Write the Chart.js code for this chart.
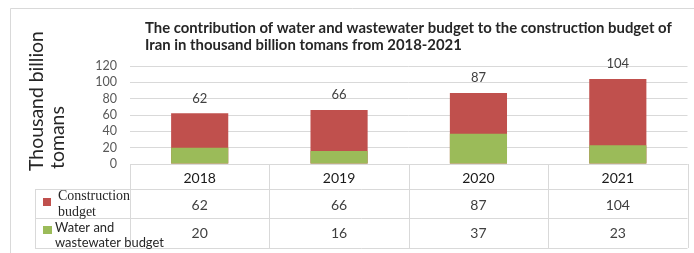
<!DOCTYPE html>
<html>
<head>
<meta charset="utf-8">
<script src="https://cdn.jsdelivr.net/npm/chart.js@4.4.1/dist/chart.umd.min.js"></script>
<style>
  html, body { margin: 0; padding: 0; background: #fff; }
  canvas { display: block; }
</style>
</head>
<body>
<canvas id="budgetChart" width="694" height="253"></canvas>
<script>
// chart data
const years = ["2018", "2019", "2020", "2021"];
const constructionBudget = [62, 66, 87, 104];
const waterBudget = [20, 16, 37, 23];
const titleLines = [
    "The contribution of water and wastewater budget to the construction budget of",
    "Iran in thousand billion tomans from 2018-2021"
];
const yTitleLines = ["Thousand billion", "tomans"];

const RED = "#c0504d";
const GREEN = "#9bbb59";
const LINE = "#d9d9d9";
const SANS = "Lato, 'Open Sans', sans-serif";

// pick a font size so the text fills a given width
function fitFont(ctx, text, width, weight, family, start) {
    let size = start;
    ctx.font = `${weight} ${size}px ${family}`;
    const w = ctx.measureText(text).width;
    size = Math.max(8, Math.min(start * 1.4, start * width / w));
    return `${weight} ${size.toFixed(2)}px ${family}`;
}

// frame, titles, value labels and the data table
const decorations = {
    id: "decorations",
    beforeDraw(chart) {
        const ctx = chart.ctx;
        ctx.save();
        ctx.fillStyle = "#fff";
        ctx.fillRect(0, 0, chart.width, chart.height);
        ctx.strokeStyle = LINE;
        ctx.lineWidth = 1;
        ctx.beginPath();
        ctx.moveTo(10.5, 253);
        ctx.lineTo(10.5, 8.5);
        ctx.lineTo(694, 8.5);
        ctx.stroke();
        ctx.restore();
    },
    afterDatasetsDraw(chart) {
        const ctx = chart.ctx;
        ctx.save();
        ctx.fillStyle = "#404040";
        ctx.font = `13px ${SANS}`;
        ctx.textAlign = "center";
        ctx.textBaseline = "middle";
        chart.getDatasetMeta(0).data.forEach((bar, i) => {
            ctx.fillText(String(constructionBudget[i]), bar.x, bar.y - 15);
        });
        ctx.restore();
    },
    afterDraw(chart) {
        const ctx = chart.ctx;
        const xs = chart.scales.x;
        const area = chart.chartArea;
        ctx.save();

        // title
        ctx.fillStyle = "#262626";
        ctx.textAlign = "left";
        ctx.textBaseline = "middle";
        ctx.font = fitFont(ctx, titleLines[0], 527, "bold", SANS, 14);
        ctx.fillText(titleLines[0], 145, 28);
        ctx.fillText(titleLines[1], 145, 45);

        // y axis title, rotated
        ctx.save();
        ctx.translate(37, 171);
        ctx.rotate(-Math.PI / 2);
        ctx.font = fitFont(ctx, yTitleLines[0], 140, "normal", SANS, 17);
        ctx.fillStyle = "#262626";
        ctx.fillText(yTitleLines[0], 0, 0);
        ctx.fillText(yTitleLines[1], 2, 21);
        ctx.restore();

        // table grid
        const left = area.left, right = area.right;
        const rowTop = area.bottom, row1 = 189, row2 = 218, rowEnd = 248;
        const step = (right - left) / years.length;
        ctx.strokeStyle = LINE;
        ctx.lineWidth = 1;
        ctx.beginPath();
        ctx.moveTo(left, rowTop + 0.5); ctx.lineTo(right, rowTop + 0.5);
        [row1, row2, rowEnd].forEach(y => {
            ctx.moveTo(35, y + 0.5); ctx.lineTo(right, y + 0.5);
        });
        for (let i = 0; i <= years.length; i++) {
            const x = Math.round(left + i * step) + 0.5;
            ctx.moveTo(x, rowTop); ctx.lineTo(x, rowEnd);
        }
        ctx.moveTo(35.5, row1); ctx.lineTo(35.5, rowEnd);
        ctx.stroke();

        // table text
        ctx.textAlign = "center";
        years.forEach((year, i) => {
            const cx = xs.getPixelForValue(i);
            ctx.font = `14px ${SANS}`;
            ctx.fillStyle = "#1a1a1a";
            ctx.fillText(year, cx, 178);
            ctx.fillStyle = "#404040";
            ctx.fillText(String(constructionBudget[i]), cx, 205);
            ctx.fillText(String(waterBudget[i]), cx, 233);
        });

        // legend keys
        ctx.fillStyle = RED;
        ctx.fillRect(43, 198, 8, 8);
        ctx.fillStyle = GREEN;
        ctx.fillRect(43, 226, 9, 8);

        ctx.textAlign = "left";
        ctx.fillStyle = "#262626";
        ctx.font = fitFont(ctx, "Construction", 72, "normal", "'Liberation Serif', 'DejaVu Serif', serif", 13);
        ctx.fillText("Construction", 58, 196);
        ctx.fillText("budget", 58, 212);
        ctx.font = fitFont(ctx, "wastewater budget", 109, "normal", SANS, 13);
        ctx.fillText("Water and", 55, 228);
        ctx.fillText("wastewater budget", 55, 243);

        ctx.restore();
    }
};

new Chart(document.getElementById("budgetChart"), {
    type: "bar",
    data: {
        labels: years,
        datasets: [
            {
                label: "Construction budget",
                data: constructionBudget,
                backgroundColor: RED,
                order: 1
            },
            {
                label: "Water and wastewater budget",
                data: waterBudget,
                backgroundColor: GREEN,
                order: 0
            }
        ]
    },
    options: {
        responsive: false,
        animation: false,
        devicePixelRatio: 1,
        layout: { padding: { top: 66, bottom: 89, left: 0, right: 6.5 } },
        datasets: { bar: { barPercentage: 0.41, categoryPercentage: 1 } },
        plugins: {
            legend: { display: false },
            tooltip: { enabled: false }
        },
        scales: {
            x: {
                display: false,
                stacked: true
            },
            y: {
                stacked: false,
                min: 0,
                max: 120,
                afterFit(scale) { scale.width = 130; },
                border: { display: false },
                grid: { color: LINE, drawTicks: false },
                ticks: {
                    stepSize: 20,
                    autoSkip: false,
                    padding: 13,
                    color: "#595959",
                    font: { family: SANS, size: 12.5 }
                }
            }
        }
    },
    plugins: [decorations]
});
</script>
</body>
</html>
